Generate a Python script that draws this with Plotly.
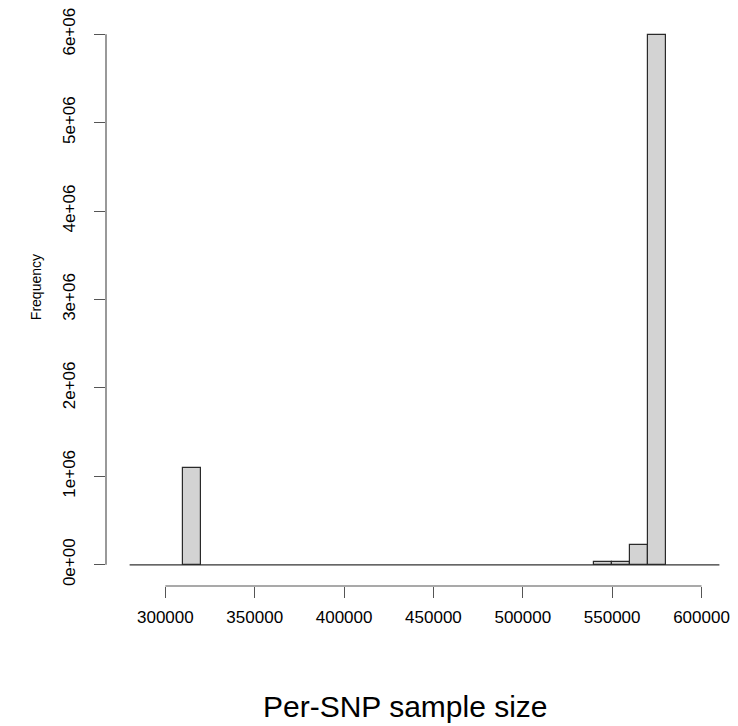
import plotly.graph_objects as go

bin_starts = list(range(280000, 610000, 10000))
bin_width = 10000
counts_nonzero = {310000: 1090000, 540000: 28000, 550000: 36000, 560000: 222000, 570000: 5990000}
counts = [counts_nonzero.get(b, 0) for b in bin_starts]

x_ticks = [300000, 350000, 400000, 450000, 500000, 550000, 600000]
y_ticks = [0, 1e6, 2e6, 3e6, 4e6, 5e6, 6e6]
y_tick_labels = ["0e+00", "1e+06", "2e+06", "3e+06", "4e+06", "5e+06", "6e+06"]

W, H = 738, 726
left, top, bottom = 105.6, 13.4, 726 - 586.2
px_per_unit = (701.5 - 165) / 300000
x_lo = 300000 - (165 - left) / px_per_unit
x_hi = 300000 + (W - 165) / px_per_unit
y_lo, y_hi = -0.04 * 6e6, 1.04 * 6e6

centers = [b + bin_width / 2 for b in bin_starts]
nz = [(c, v) for c, v in zip(centers, counts) if v > 0]

fig = go.Figure()
fig.add_trace(go.Bar(
    x=[c for c, v in nz], y=[v for c, v in nz], width=bin_width,
    marker=dict(color="#D3D3D3", line=dict(color="#2a2a2a", width=1.2)),
    hoverinfo="x+y", showlegend=False,
))

line_col = "#555555"
shapes = [
    dict(type="line", xref="x", yref="y", x0=bin_starts[0], x1=bin_starts[-1] + bin_width,
         y0=0, y1=0, line=dict(color="#333333", width=1.2), layer="below"),
    dict(type="line", xref="paper", yref="y", x0=0, x1=0, y0=y_ticks[0], y1=y_ticks[-1],
         line=dict(color=line_col, width=1.2)),
    dict(type="line", xref="x", yref="paper", x0=x_ticks[0], x1=x_ticks[-1], y0=0, y1=0,
         line=dict(color=line_col, width=1.2)),
]

fig.update_layout(
    width=W, height=H,
    margin=dict(l=left, r=0, t=top, b=bottom, pad=0),
    paper_bgcolor="white", plot_bgcolor="white",
    font=dict(family="Liberation Sans, Arial, sans-serif", color="black"),
    bargap=0,
    shapes=shapes,
    xaxis=dict(range=[x_lo, x_hi], tickvals=x_ticks, ticktext=[str(t) for t in x_ticks],
               ticks="outside", ticklen=11, tickwidth=1.2, tickcolor=line_col,
               showline=False, showgrid=False, zeroline=False,
               tickfont=dict(size=17), ticklabelstandoff=5),
    yaxis=dict(range=[y_lo, y_hi], tickvals=y_ticks, ticktext=y_tick_labels,
               ticks="outside", ticklen=11, tickwidth=1.2, tickcolor=line_col,
               showline=False, showgrid=False, zeroline=False,
               tickangle=-90, tickfont=dict(size=17), ticklabelstandoff=12),
    annotations=[
        dict(text="Per-SNP sample size", xref="paper", yref="paper", x=(405 - left) / (W - left),
             y=-(707 - 586.2) / (586.2 - top), xanchor="center", yanchor="middle",
             showarrow=False, font=dict(size=30)),
        dict(text="Frequency", xref="paper", yref="paper", x=-(left - 35) / (W - left),
             y=(586.2 - 287) / (586.2 - top), xanchor="center", yanchor="middle",
             textangle=-90, showarrow=False, font=dict(size=14)),
    ],
)

fig.write_html("out.html")
